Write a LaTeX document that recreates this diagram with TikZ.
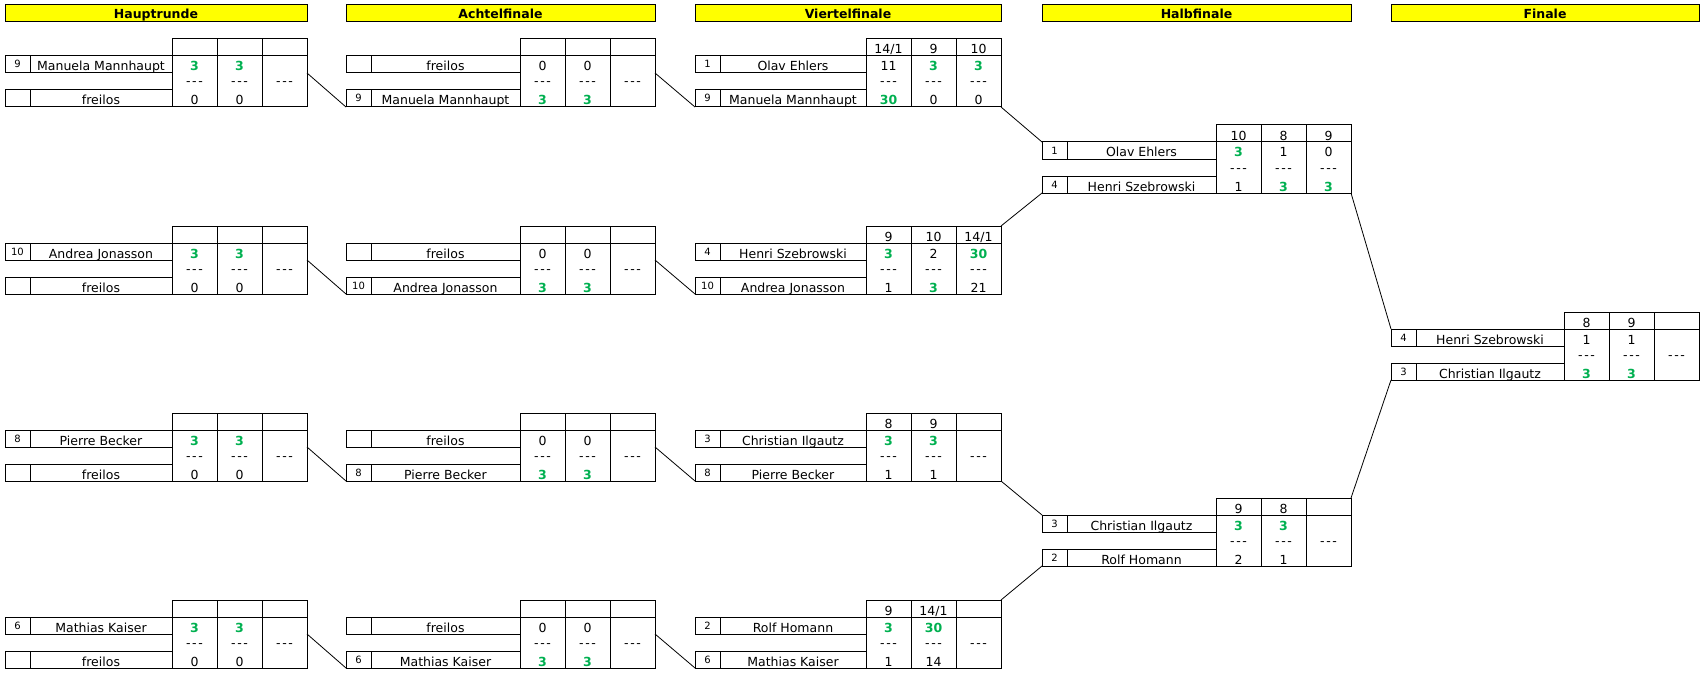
\documentclass[tikz,border=0pt]{standalone}
\usepackage{fontspec}
\setmainfont{DejaVu Sans}
\usetikzlibrary{positioning}
\definecolor{gewinn}{RGB}{0,176,80}
\definecolor{rundengelb}{RGB}{255,255,0}
\newcommand{\sieg}[1]{\textbf{\textcolor{gewinn}{#1}}}
\newcommand{\leer}{-\kern1.6pt-\kern1.6pt-}
\tikzset{
    x=1pt, y=-1pt, % one unit is one pixel, y runs downwards
    every node/.style={inner sep=0pt, outer sep=0pt, font=\fontsize{12.5}{15}\selectfont},
    feld/.style={draw, line width=1pt, minimum height=17pt, text height=13pt, text depth=0pt}, % one cell of the table
    setz/.style={feld, minimum width=25pt, anchor=north west, text height=7pt, font=\fontsize{10}{12}\selectfont},
    spieler/.style={feld, minimum width=#1},
    satzkopf/.style={feld, minimum width=45pt, anchor=south west},
    satz/.style={draw, line width=1pt, minimum width=45pt, minimum height=51pt},
    wert/.style={text height=13pt, text depth=0pt},
    strich/.style={text height=9pt, text depth=0pt},
    runde/.style={draw, line width=1pt, fill=rundengelb, minimum height=17pt, anchor=north west,
        text height=10pt, text depth=0pt, font=\fontsize{12.5}{15}\selectfont\bfseries},
    linie/.style={line width=0.8pt},
}
% #1 name, #2 x, #3 y, #4 width of name, #5/#6 first player, #7/#8 second player, #9 sets
\newcommand{\spiel}[9]{%
    \node[setz] (#1-s1) at (#2,#3+17) {#5};
    \node[spieler=#4pt, right=0pt of #1-s1] (#1-n1) {#6};
    \node[setz, below=17pt of #1-s1] (#1-s2) {#7};
    \node[spieler=#4pt, right=0pt of #1-s2] (#1-n2) {#8};
    \foreach \kopf/\oben/\unten [count=\k] in {#9} {
        \node[satzkopf, xshift={(\k-1)*45pt}] (#1-h\k) at (#1-n1.north east) {\kopf};
        \node[satz, below=0pt of #1-h\k] (#1-b\k) {};
        \node[wert] (#1-o\k) at (#1-h\k.south |- #1-n1) {\oben};
        \node[strich] (#1-m\k) at (#1-b\k) {\leer};
        \node[wert] (#1-u\k) at (#1-h\k.south |- #1-n2) {\unten};
    }
}
\begin{document}
\begin{tikzpicture}
    \useasboundingbox (0,0) rectangle (1705,674);
    % round headers
    \node[runde, minimum width=302pt] (kopf-haupt) at (5,5) {Hauptrunde};
    \node[runde, minimum width=309pt] (kopf-achtel) at (346,5) {Achtelfinale};
    \node[runde, minimum width=306pt] (kopf-viertel) at (695,5) {Viertelfinale};
    \node[runde, minimum width=309pt] (kopf-halb) at (1042,5) {Halbfinale};
    \node[runde, minimum width=308pt] (kopf-finale) at (1391,5) {Finale};
    % Hauptrunde
    \spiel{h1}{5}{39}{142}{9}{Manuela Mannhaupt}{}{freilos}{/\sieg{3}/0, /\sieg{3}/0, //}
    \spiel{h2}{5}{226}{142}{10}{Andrea Jonasson}{}{freilos}{/\sieg{3}/0, /\sieg{3}/0, //}
    \spiel{h3}{5}{413}{142}{8}{Pierre Becker}{}{freilos}{/\sieg{3}/0, /\sieg{3}/0, //}
    \spiel{h4}{5}{600}{142}{6}{Mathias Kaiser}{}{freilos}{/\sieg{3}/0, /\sieg{3}/0, //}
    % Achtelfinale
    \spiel{a1}{346}{39}{149}{}{freilos}{9}{Manuela Mannhaupt}{/0/\sieg{3}, /0/\sieg{3}, //}
    \spiel{a2}{346}{226}{149}{}{freilos}{10}{Andrea Jonasson}{/0/\sieg{3}, /0/\sieg{3}, //}
    \spiel{a3}{346}{413}{149}{}{freilos}{8}{Pierre Becker}{/0/\sieg{3}, /0/\sieg{3}, //}
    \spiel{a4}{346}{600}{149}{}{freilos}{6}{Mathias Kaiser}{/0/\sieg{3}, /0/\sieg{3}, //}
    % Viertelfinale
    \spiel{v1}{695}{39}{146}{1}{Olav Ehlers}{9}{Manuela Mannhaupt}{{14/1}/11/\sieg{30}, 9/\sieg{3}/0, 10/\sieg{3}/0}
    \spiel{v2}{695}{226}{146}{4}{Henri Szebrowski}{10}{Andrea Jonasson}{9/\sieg{3}/1, 10/2/\sieg{3}, {14/1}/\sieg{30}/21}
    \spiel{v3}{695}{413}{146}{3}{Christian Ilgautz}{8}{Pierre Becker}{8/\sieg{3}/1, 9/\sieg{3}/1, //}
    \spiel{v4}{695}{600}{146}{2}{Rolf Homann}{6}{Mathias Kaiser}{9/\sieg{3}/1, {14/1}/\sieg{30}/14, //}
    % Halbfinale
    \spiel{hf1}{1042}{125}{149}{1}{Olav Ehlers}{4}{Henri Szebrowski}{10/\sieg{3}/1, 8/1/\sieg{3}, 9/0/\sieg{3}}
    \spiel{hf2}{1042}{498}{149}{3}{Christian Ilgautz}{2}{Rolf Homann}{9/\sieg{3}/2, 8/\sieg{3}/1, //}
    % Finale
    \spiel{f}{1391}{312}{148}{4}{Henri Szebrowski}{3}{Christian Ilgautz}{8/1/\sieg{3}, 9/1/\sieg{3}, //}
    % connectors
    \foreach \i in {1,...,4} {
        \draw[linie] (h\i-b3.east |- h\i-n1.south) -- (a\i-s2.south west);
        \draw[linie] (a\i-b3.east |- a\i-n1.south) -- (v\i-s2.south west);
    }
    \draw[linie] (v1-b3.south east) -- (hf1-s1.north west);
    \draw[linie] (v2-h3.north east) -- (hf1-s2.south west);
    \draw[linie] (v3-b3.south east) -- (hf2-s1.north west);
    \draw[linie] (v4-h3.north east) -- (hf2-s2.south west);
    \draw[linie] (hf1-b3.south east) -- (f-s1.north west);
    \draw[linie] (hf2-h3.north east) -- (f-s2.south west);
\end{tikzpicture}
\end{document}
